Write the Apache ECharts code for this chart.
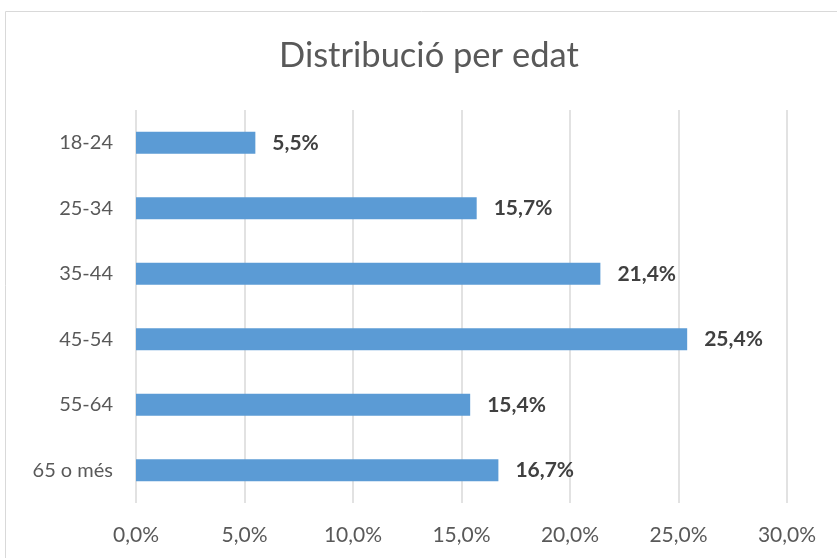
<!DOCTYPE html>
<html>
<head>
<meta charset="utf-8">
<script src="https://cdn.jsdelivr.net/npm/echarts@6/dist/echarts.min.js"></script>
<style>
  html, body { margin: 0; padding: 0; background: #fff; }
  #chart { width: 837px; height: 558px; }
</style>
</head>
<body>
<div id="chart"></div>
<script>
const ageGroups = ['18-24', '25-34', '35-44', '45-54', '55-64', '65 o més'];
const sharePercent = [5.5, 15.7, 21.4, 25.4, 15.4, 16.7];
const axisTicks = { min: 0, max: 30, interval: 5 };

const fontFamily = 'Lato, "Liberation Sans", sans-serif';
const fmt = (v, digits) => v.toFixed(digits).replace('.', ',') + '%';

const chart = echarts.init(document.getElementById('chart'));

chart.setOption({
  animation: false,
  title: {
    text: 'Distribució per edat',
    left: 274,
    top: 33,
    textStyle: { fontFamily, fontSize: 34.5, fontWeight: 'normal', color: '#595959' }
  },
  graphic: [{
    type: 'rect',
    shape: { x: 5.5, y: 11.5, width: 900, height: 600 },
    style: { fill: 'none', stroke: '#d9d9d9', lineWidth: 1 },
    silent: true
  }],
  grid: { left: 136, right: 50, top: 110, height: 393 },
  xAxis: {
    type: 'value',
    min: axisTicks.min,
    max: axisTicks.max,
    interval: axisTicks.interval,
    axisLine: { show: false },
    axisTick: { show: false },
    axisLabel: {
      margin: 22,
      fontFamily,
      fontSize: 21,
      color: '#595959',
      formatter: v => fmt(v, 1)
    },
    splitLine: { lineStyle: { color: '#d9d9d9', width: 1.5 } }
  },
  yAxis: {
    type: 'category',
    inverse: true,
    data: ageGroups,
    axisLine: { show: false },
    axisTick: { show: false },
    axisLabel: { margin: 23, fontFamily, fontSize: 20, color: '#595959' }
  },
  series: [{
    type: 'bar',
    data: sharePercent,
    barWidth: 22,
    itemStyle: { color: '#5b9bd5' },
    label: {
      show: true,
      position: 'right',
      distance: 17,
      fontFamily,
      fontSize: 21,
      fontWeight: 'bold',
      color: '#404040',
      formatter: p => fmt(p.value, 1)
    }
  }]
});
</script>
</body>
</html>
